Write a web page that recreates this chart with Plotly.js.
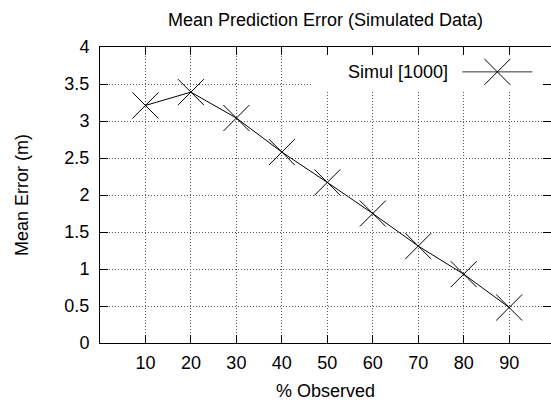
<!DOCTYPE html>
<html>
<head>
<meta charset="utf-8">
<script src="https://cdn.plot.ly/plotly-3.0.1.min.js"></script>
<style>html,body{margin:0;padding:0;background:#fff;}#chart{width:551px;height:403px;}</style>
</head>
<body>
<div id="chart"></div>
<script>
// Data
const observedPct = [10, 20, 30, 40, 50, 60, 70, 80, 90];
const meanError   = [3.21, 3.39, 3.04, 2.58, 2.17, 1.75, 1.31, 0.93, 0.48];
const seriesName  = "Simul [1000]";
const xTickVals   = [10, 20, 30, 40, 50, 60, 70, 80, 90];
const yTickVals   = [0, 0.5, 1, 1.5, 2, 2.5, 3, 3.5, 4];

const FONT = '"Liberation Sans", Arial, Helvetica, sans-serif';

const trace = {
  x: observedPct,
  y: meanError,
  name: seriesName,
  type: 'scatter',
  mode: 'lines+markers',
  line: {color: '#000', width: 1},
  marker: {symbol: 'x-thin-open', size: 26, color: '#000', line: {color: '#000', width: 1}},
  showlegend: false,
  hoverinfo: 'skip'
};

const axisCommon = {
  showline: true, linecolor: '#000', linewidth: 1,
  mirror: 'ticks', ticks: 'inside', ticklen: 8, tickwidth: 1, tickcolor: '#000',
  showgrid: true, gridcolor: '#555', gridwidth: 1, griddash: '1px,2px',
  zeroline: false, tickfont: {family: FONT, size: 18, color: '#000'},
  fixedrange: true
};

const layout = {
  width: 551, height: 403,
  margin: {l: 100, r: 0, t: 47, b: 60, pad: 0},
  paper_bgcolor: '#fff', plot_bgcolor: '#fff',
  font: {family: FONT, size: 18, color: '#000'},
  title: {text: 'Mean Prediction Error (Simulated Data)', font: {family: FONT, size: 18, color: '#000'},
          xref: 'paper', x: 0.5, xanchor: 'center', yref: 'container', y: 0.952, yanchor: 'middle'},
  xaxis: Object.assign({}, axisCommon, {
    range: [0, 99.2], tickmode: 'array', tickvals: xTickVals, ticklabelstandoff: 3,
    title: {text: '% Observed', font: {family: FONT, size: 18, color: '#000'}, standoff: 12}
  }),
  yaxis: Object.assign({}, axisCommon, {
    range: [0, 4], tickmode: 'array', tickvals: yTickVals, ticklabelstandoff: 6,
    title: {text: 'Mean Error (m)', font: {family: FONT, size: 18, color: '#000'}, standoff: 31}
  }),
  shapes: [
    // key box blanks out the grid behind it
    {type: 'rect', layer: 'between', xref: 'x', yref: 'y', x0: 46.8, x1: 99.2, y0: 3.42, y1: 4,
     fillcolor: '#fff', line: {width: 0}},
    // key sample line
    {type: 'line', layer: 'above', xref: 'x', yref: 'y', xsizemode: 'pixel', ysizemode: 'pixel',
     xanchor: 87.4, yanchor: 3.664, x0: -35, x1: 35, y0: 0, y1: 0, line: {color: '#333', width: 1}},
    // key sample marker (x)
    {type: 'line', layer: 'above', xref: 'x', yref: 'y', xsizemode: 'pixel', ysizemode: 'pixel',
     xanchor: 87.4, yanchor: 3.664, x0: -13, x1: 13, y0: -13, y1: 13, line: {color: '#000', width: 1}},
    {type: 'line', layer: 'above', xref: 'x', yref: 'y', xsizemode: 'pixel', ysizemode: 'pixel',
     xanchor: 87.4, yanchor: 3.664, x0: -13, x1: 13, y0: 13, y1: -13, line: {color: '#000', width: 1}}
  ],
  annotations: [
    {text: seriesName, xref: 'x', yref: 'y', x: 77.0, y: 3.664, xanchor: 'right', yanchor: 'middle',
     showarrow: false, font: {family: FONT, size: 18, color: '#000'}}
  ]
};

Plotly.newPlot('chart', [trace], layout, {staticPlot: true, displayModeBar: false});
</script>
</body>
</html>
